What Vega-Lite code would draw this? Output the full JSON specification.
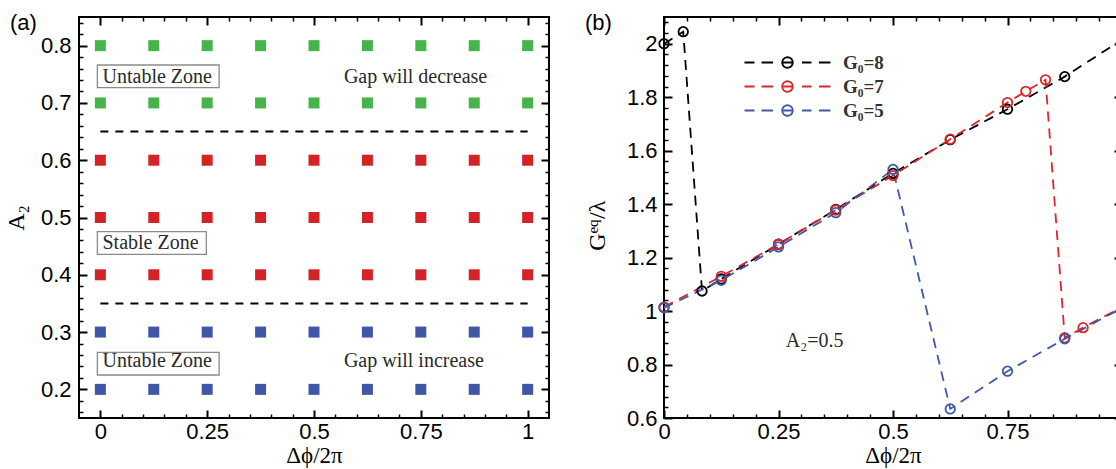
{
  "$schema": "https://vega.github.io/schema/vega-lite/v6.json",
  "autosize": {"type": "none"},
  "padding": {"left": 79, "top": 17, "right": 1037, "bottom": 452},
  "background": "white",
  "spacing": 115,
  "bounds": "flush",
  "resolve": {"scale": {"color": "independent"}, "legend": {"color": "independent"}},
  "datasets": {
    "curves": [
      {"phase": 0, "G": 2.0, "series": "G₀=8"},
      {"phase": 0.042, "G": 2.045, "series": "G₀=8"},
      {"phase": 0.083, "G": 1.075, "series": "G₀=8"},
      {"phase": 0.125, "G": 1.12, "series": "G₀=8"},
      {"phase": 0.25, "G": 1.25, "series": "G₀=8"},
      {"phase": 0.375, "G": 1.38, "series": "G₀=8"},
      {"phase": 0.5, "G": 1.515, "series": "G₀=8"},
      {"phase": 0.625, "G": 1.641, "series": "G₀=8"},
      {"phase": 0.75, "G": 1.755, "series": "G₀=8"},
      {"phase": 0.875, "G": 1.877, "series": "G₀=8"},
      {"phase": 1.0, "G": 2.015, "series": "G₀=8"},
      {"phase": 0, "G": 1.015, "series": "G₀=7"},
      {"phase": 0.125, "G": 1.13, "series": "G₀=7"},
      {"phase": 0.25, "G": 1.25, "series": "G₀=7"},
      {"phase": 0.375, "G": 1.378, "series": "G₀=7"},
      {"phase": 0.5, "G": 1.507, "series": "G₀=7"},
      {"phase": 0.625, "G": 1.643, "series": "G₀=7"},
      {"phase": 0.75, "G": 1.78, "series": "G₀=7"},
      {"phase": 0.79, "G": 1.822, "series": "G₀=7"},
      {"phase": 0.833, "G": 1.865, "series": "G₀=7"},
      {"phase": 0.875, "G": 0.9, "series": "G₀=7"},
      {"phase": 0.915, "G": 0.938, "series": "G₀=7"},
      {"phase": 1.0, "G": 1.015, "series": "G₀=7"},
      {"phase": 0, "G": 1.012, "series": "G₀=5"},
      {"phase": 0.125, "G": 1.115, "series": "G₀=5"},
      {"phase": 0.25, "G": 1.24, "series": "G₀=5"},
      {"phase": 0.375, "G": 1.368, "series": "G₀=5"},
      {"phase": 0.5, "G": 1.53, "series": "G₀=5"},
      {"phase": 0.625, "G": 0.634, "series": "G₀=5"},
      {"phase": 0.75, "G": 0.775, "series": "G₀=5"},
      {"phase": 0.875, "G": 0.896, "series": "G₀=5"},
      {"phase": 1.0, "G": 1.012, "series": "G₀=5"}
    ]
  },
  "hconcat": [
    {
      "width": 470,
      "height": 401,
      "title": {"text": "(a)", "anchor": "start", "frame": "group", "orient": "top", "offset": 0, "dx": -69, "dy": 36, "baseline": "alphabetic", "font": "Liberation Sans", "fontSize": 22, "fontWeight": "normal", "color": "black"},
      "resolve": {"axis": {"x": "independent", "y": "independent"}},
      "layer": [
        {
          "data": {"values": [
            {"phase": 0, "A2": 0.8, "zone": "decrease"}, {"phase": 0.125, "A2": 0.8, "zone": "decrease"}, {"phase": 0.25, "A2": 0.8, "zone": "decrease"}, {"phase": 0.375, "A2": 0.8, "zone": "decrease"}, {"phase": 0.5, "A2": 0.8, "zone": "decrease"}, {"phase": 0.625, "A2": 0.8, "zone": "decrease"}, {"phase": 0.75, "A2": 0.8, "zone": "decrease"}, {"phase": 0.875, "A2": 0.8, "zone": "decrease"}, {"phase": 1, "A2": 0.8, "zone": "decrease"},
            {"phase": 0, "A2": 0.7, "zone": "decrease"}, {"phase": 0.125, "A2": 0.7, "zone": "decrease"}, {"phase": 0.25, "A2": 0.7, "zone": "decrease"}, {"phase": 0.375, "A2": 0.7, "zone": "decrease"}, {"phase": 0.5, "A2": 0.7, "zone": "decrease"}, {"phase": 0.625, "A2": 0.7, "zone": "decrease"}, {"phase": 0.75, "A2": 0.7, "zone": "decrease"}, {"phase": 0.875, "A2": 0.7, "zone": "decrease"}, {"phase": 1, "A2": 0.7, "zone": "decrease"},
            {"phase": 0, "A2": 0.6, "zone": "stable"}, {"phase": 0.125, "A2": 0.6, "zone": "stable"}, {"phase": 0.25, "A2": 0.6, "zone": "stable"}, {"phase": 0.375, "A2": 0.6, "zone": "stable"}, {"phase": 0.5, "A2": 0.6, "zone": "stable"}, {"phase": 0.625, "A2": 0.6, "zone": "stable"}, {"phase": 0.75, "A2": 0.6, "zone": "stable"}, {"phase": 0.875, "A2": 0.6, "zone": "stable"}, {"phase": 1, "A2": 0.6, "zone": "stable"},
            {"phase": 0, "A2": 0.5, "zone": "stable"}, {"phase": 0.125, "A2": 0.5, "zone": "stable"}, {"phase": 0.25, "A2": 0.5, "zone": "stable"}, {"phase": 0.375, "A2": 0.5, "zone": "stable"}, {"phase": 0.5, "A2": 0.5, "zone": "stable"}, {"phase": 0.625, "A2": 0.5, "zone": "stable"}, {"phase": 0.75, "A2": 0.5, "zone": "stable"}, {"phase": 0.875, "A2": 0.5, "zone": "stable"}, {"phase": 1, "A2": 0.5, "zone": "stable"},
            {"phase": 0, "A2": 0.4, "zone": "stable"}, {"phase": 0.125, "A2": 0.4, "zone": "stable"}, {"phase": 0.25, "A2": 0.4, "zone": "stable"}, {"phase": 0.375, "A2": 0.4, "zone": "stable"}, {"phase": 0.5, "A2": 0.4, "zone": "stable"}, {"phase": 0.625, "A2": 0.4, "zone": "stable"}, {"phase": 0.75, "A2": 0.4, "zone": "stable"}, {"phase": 0.875, "A2": 0.4, "zone": "stable"}, {"phase": 1, "A2": 0.4, "zone": "stable"},
            {"phase": 0, "A2": 0.3, "zone": "increase"}, {"phase": 0.125, "A2": 0.3, "zone": "increase"}, {"phase": 0.25, "A2": 0.3, "zone": "increase"}, {"phase": 0.375, "A2": 0.3, "zone": "increase"}, {"phase": 0.5, "A2": 0.3, "zone": "increase"}, {"phase": 0.625, "A2": 0.3, "zone": "increase"}, {"phase": 0.75, "A2": 0.3, "zone": "increase"}, {"phase": 0.875, "A2": 0.3, "zone": "increase"}, {"phase": 1, "A2": 0.3, "zone": "increase"},
            {"phase": 0, "A2": 0.2, "zone": "increase"}, {"phase": 0.125, "A2": 0.2, "zone": "increase"}, {"phase": 0.25, "A2": 0.2, "zone": "increase"}, {"phase": 0.375, "A2": 0.2, "zone": "increase"}, {"phase": 0.5, "A2": 0.2, "zone": "increase"}, {"phase": 0.625, "A2": 0.2, "zone": "increase"}, {"phase": 0.75, "A2": 0.2, "zone": "increase"}, {"phase": 0.875, "A2": 0.2, "zone": "increase"}, {"phase": 1, "A2": 0.2, "zone": "increase"}
          ]},
          "mark": {"type": "point", "shape": "square", "filled": true, "size": 121, "opacity": 1},
          "encoding": {
            "x": {"field": "phase", "type": "quantitative", "scale": {"domain": [-0.05, 1.05], "nice": false, "zero": false},
                  "axis": {"orient": "bottom", "values": [0, 0.25, 0.5, 0.75, 1], "format": ".2~f", "ticks": false, "labelPadding": 3, "title": "Δϕ/2π", "titlePadding": 2, "titleFontSize": 23}},
            "y": {"field": "A2", "type": "quantitative", "scale": {"domain": [0.15, 0.85], "nice": false, "zero": false},
                  "axis": {"orient": "left", "values": [0.2, 0.3, 0.4, 0.5, 0.6, 0.7, 0.8], "format": ".1f", "ticks": false, "labelPadding": 8, "title": "A₂", "titlePadding": 12}},
            "color": {"field": "zone", "type": "nominal", "scale": {"domain": ["decrease", "stable", "increase"], "range": ["#45b449", "#d42229", "#3f57a6"]}, "legend": null}
          }
        },
        {
          "data": {"values": [{"A2": 0.65}, {"A2": 0.35}]},
          "mark": {"type": "rule", "strokeDash": [8, 7], "strokeWidth": 2, "color": "black"},
          "encoding": {
            "x": {"datum": 0, "type": "quantitative", "scale": {"domain": [-0.05, 1.05], "nice": false, "zero": false},
                  "axis": {"orient": "bottom", "values": [0, 0.25, 0.5, 0.75, 1], "labels": false, "tickSize": -8, "tickWidth": 2, "title": null}},
            "x2": {"datum": 1},
            "y": {"field": "A2", "type": "quantitative", "scale": {"domain": [0.15, 0.85], "nice": false, "zero": false},
                  "axis": {"orient": "left", "values": [0.2, 0.3, 0.4, 0.5, 0.6, 0.7, 0.8], "labels": false, "tickSize": -8, "tickWidth": 2, "title": null}}
          }
        },
        {
          "data": {"values": [
            {"label": "Untable Zone", "x1": -0.007, "x2": 0.278, "y1": 0.7266, "y2": 0.7662},
            {"label": "Stable Zone", "x1": -0.007, "x2": 0.248, "y1": 0.4358, "y2": 0.4752},
            {"label": "Untable Zone", "x1": -0.007, "x2": 0.278, "y1": 0.2251, "y2": 0.2644}
          ]},
          "mark": {"type": "rect", "fill": "white", "stroke": "#8a8a8a", "strokeWidth": 1.3},
          "encoding": {
            "x": {"field": "x1", "type": "quantitative", "scale": {"domain": [-0.05, 1.05], "nice": false, "zero": false},
                  "axis": {"orient": "bottom", "values": [0.05, 0.1, 0.15, 0.2, 0.3, 0.35, 0.4, 0.45, 0.55, 0.6, 0.65, 0.7, 0.8, 0.85, 0.9, 0.95], "labels": false, "tickSize": -4, "tickWidth": 1.5, "title": null}},
            "x2": {"field": "x2"},
            "y": {"field": "y1", "type": "quantitative", "scale": {"domain": [0.15, 0.85], "nice": false, "zero": false},
                  "axis": {"orient": "left", "values": [0.16, 0.18, 0.22, 0.24, 0.26, 0.28, 0.32, 0.34, 0.36, 0.38, 0.42, 0.44, 0.46, 0.48, 0.52, 0.54, 0.56, 0.58, 0.62, 0.64, 0.66, 0.68, 0.72, 0.74, 0.76, 0.78, 0.82, 0.84], "labels": false, "tickSize": -4, "tickWidth": 1.5, "title": null}},
            "y2": {"field": "y2"}
          }
        },
        {
          "data": {"values": [
            {"label": "Untable Zone", "x": 0.005, "y": 0.7343},
            {"label": "Stable Zone", "x": 0.005, "y": 0.445},
            {"label": "Untable Zone", "x": 0.005, "y": 0.2396}
          ]},
          "mark": {"type": "text", "align": "left", "baseline": "alphabetic", "font": "Liberation Serif", "fontSize": 20, "color": "#2a2a2a"},
          "encoding": {
            "x": {"field": "x", "type": "quantitative", "scale": {"domain": [-0.05, 1.05], "nice": false, "zero": false},
                  "axis": {"orient": "top", "values": [0, 0.25, 0.5, 0.75, 1], "labels": false, "tickSize": -8, "tickWidth": 2, "title": null}},
            "y": {"field": "y", "type": "quantitative", "scale": {"domain": [0.15, 0.85], "nice": false, "zero": false},
                  "axis": {"orient": "right", "values": [0.2, 0.3, 0.4, 0.5, 0.6, 0.7, 0.8], "labels": false, "tickSize": -8, "tickWidth": 2, "title": null}},
            "text": {"field": "label"}
          }
        },
        {
          "data": {"values": [
            {"label": "Gap will decrease", "x": 0.57, "y": 0.7343},
            {"label": "Gap will increase", "x": 0.57, "y": 0.2396}
          ]},
          "mark": {"type": "text", "align": "left", "baseline": "alphabetic", "font": "Liberation Serif", "fontSize": 20, "color": "#2a2a2a"},
          "encoding": {
            "x": {"field": "x", "type": "quantitative", "scale": {"domain": [-0.05, 1.05], "nice": false, "zero": false},
                  "axis": {"orient": "top", "values": [0.05, 0.1, 0.15, 0.2, 0.3, 0.35, 0.4, 0.45, 0.55, 0.6, 0.65, 0.7, 0.8, 0.85, 0.9, 0.95], "labels": false, "tickSize": -4, "tickWidth": 1.5, "title": null}},
            "y": {"field": "y", "type": "quantitative", "scale": {"domain": [0.15, 0.85], "nice": false, "zero": false},
                  "axis": {"orient": "right", "values": [0.16, 0.18, 0.22, 0.24, 0.26, 0.28, 0.32, 0.34, 0.36, 0.38, 0.42, 0.44, 0.46, 0.48, 0.52, 0.54, 0.56, 0.58, 0.62, 0.64, 0.66, 0.68, 0.72, 0.74, 0.76, 0.78, 0.82, 0.84], "labels": false, "tickSize": -4, "tickWidth": 1.5, "title": null}},
            "text": {"field": "label"}
          }
        }
      ]
    },
    {
      "width": 458,
      "height": 401,
      "title": {"text": "(b)", "anchor": "start", "frame": "group", "orient": "top", "offset": 0, "dx": -79, "dy": 36, "baseline": "alphabetic", "font": "Liberation Sans", "fontSize": 22, "fontWeight": "normal", "color": "black"},
      "resolve": {"axis": {"x": "independent", "y": "independent"}},
      "layer": [
        {
          "data": {"name": "curves"},
          "mark": {"type": "line", "strokeDash": [10, 7], "strokeWidth": 1.8},
          "encoding": {
            "x": {"field": "phase", "type": "quantitative", "scale": {"domain": [0, 1], "nice": false, "zero": false},
                  "axis": {"orient": "bottom", "values": [0, 0.25, 0.5, 0.75], "format": ".2~f", "ticks": false, "labelPadding": 3, "title": "Δϕ/2π", "titlePadding": 2, "titleFontSize": 23}},
            "y": {"field": "G", "type": "quantitative", "scale": {"domain": [0.6, 2.1], "nice": false, "zero": false},
                  "axis": {"orient": "left", "values": [0.6, 0.8, 1.0, 1.2, 1.4, 1.6, 1.8, 2.0], "format": ".2~f", "ticks": false, "labelPadding": 7, "title": null}},
            "color": {"field": "series", "type": "nominal", "scale": {"domain": ["G₀=8", "G₀=7", "G₀=5"], "range": ["#000000", "#dc262d", "#3f59a8"]},
                      "legend": {"orient": "none", "legendX": 114, "legendY": 36, "title": null, "padding": 0,
                                 "symbolType": "M-8.6,0H-6.6M-5.2,0H-2.9M-1.05,0A1.05,1.05,0,1,1,1.05,0A1.05,1.05,0,1,1,-1.05,0M-1.05,0H1.05M2.9,0H4.8M6.3,0H8.6",
                                 "symbolSize": 100, "symbolStrokeWidth": 1.8, "symbolFillColor": "transparent", "symbolDash": [1, 0],
                                 "labelFont": "Liberation Serif", "labelFontWeight": "bold", "labelFontSize": 19, "labelColor": "#333333",
                                 "labelOffset": 46, "rowPadding": 4}}
          }
        },
        {
          "data": {"name": "curves"},
          "mark": {"type": "point", "shape": "circle", "filled": false, "size": 90, "strokeWidth": 1.8, "opacity": 1},
          "encoding": {
            "x": {"field": "phase", "type": "quantitative", "scale": {"domain": [0, 1], "nice": false, "zero": false},
                  "axis": {"orient": "bottom", "values": [0, 0.25, 0.5, 0.75, 1], "labels": false, "tickSize": -8, "tickWidth": 2, "title": null}},
            "y": {"field": "G", "type": "quantitative", "scale": {"domain": [0.6, 2.1], "nice": false, "zero": false},
                  "axis": {"orient": "left", "values": [0.6, 0.8, 1.0, 1.2, 1.4, 1.6, 1.8, 2.0], "labels": false, "tickSize": -8, "tickWidth": 2, "title": null}},
            "color": {"field": "series", "type": "nominal", "scale": {"domain": ["G₀=8", "G₀=7", "G₀=5"], "range": ["#000000", "#dc262d", "#3f59a8"]},
                      "legend": {"orient": "none", "legendX": 114, "legendY": 36, "title": null, "padding": 0,
                                 "symbolType": "M-8.6,0H-6.6M-5.2,0H-2.9M-1.05,0A1.05,1.05,0,1,1,1.05,0A1.05,1.05,0,1,1,-1.05,0M-1.05,0H1.05M2.9,0H4.8M6.3,0H8.6",
                                 "symbolSize": 100, "symbolStrokeWidth": 1.8, "symbolFillColor": "transparent", "symbolDash": [1, 0],
                                 "labelFont": "Liberation Serif", "labelFontWeight": "bold", "labelFontSize": 19, "labelColor": "#333333",
                                 "labelOffset": 46, "rowPadding": 4}}
          }
        },
        {
          "data": {"values": [{}]},
          "mark": {"type": "text", "text": "A₂=0.5", "align": "left", "baseline": "alphabetic", "font": "Liberation Serif", "fontSize": 20, "color": "#2a2a2a"},
          "encoding": {
            "x": {"datum": 0.266, "type": "quantitative", "scale": {"domain": [0, 1], "nice": false, "zero": false},
                  "axis": {"orient": "bottom", "values": [0.05, 0.1, 0.15, 0.2, 0.3, 0.35, 0.4, 0.45, 0.55, 0.6, 0.65, 0.7, 0.8, 0.85, 0.9, 0.95], "labels": false, "tickSize": -4, "tickWidth": 1.5, "title": null}},
            "y": {"datum": 0.867, "type": "quantitative", "scale": {"domain": [0.6, 2.1], "nice": false, "zero": false},
                  "axis": {"orient": "left", "values": [0.64, 0.68, 0.72, 0.76, 0.84, 0.88, 0.92, 0.96, 1.04, 1.08, 1.12, 1.16, 1.24, 1.28, 1.32, 1.36, 1.44, 1.48, 1.52, 1.56, 1.64, 1.68, 1.72, 1.76, 1.84, 1.88, 1.92, 1.96, 2.04, 2.08], "labels": false, "tickSize": -4, "tickWidth": 1.5, "title": null}}
          }
        },
        {
          "data": {"values": [{}]},
          "mark": {"type": "text", "text": "G", "angle": 270, "align": "left", "baseline": "alphabetic", "font": "Liberation Serif", "fontSize": 24, "color": "black"},
          "encoding": {
            "x": {"datum": -0.129, "type": "quantitative", "scale": {"domain": [0, 1], "nice": false, "zero": false},
                  "axis": {"orient": "top", "values": [0, 0.25, 0.5, 0.75, 1], "labels": false, "tickSize": -8, "tickWidth": 2, "title": null}},
            "y": {"datum": 1.226, "type": "quantitative", "scale": {"domain": [0.6, 2.1], "nice": false, "zero": false},
                  "axis": {"orient": "right", "values": [0.6, 0.8, 1.0, 1.2, 1.4, 1.6, 1.8, 2.0], "labels": false, "tickSize": -8, "tickWidth": 2, "title": null}}
          }
        },
        {
          "data": {"values": [{}]},
          "mark": {"type": "text", "text": "eq", "angle": 270, "align": "left", "baseline": "alphabetic", "font": "Liberation Serif", "fontSize": 15, "color": "black"},
          "encoding": {
            "x": {"datum": -0.144, "type": "quantitative", "scale": {"domain": [0, 1], "nice": false, "zero": false},
                  "axis": {"orient": "top", "values": [0.05, 0.1, 0.15, 0.2, 0.3, 0.35, 0.4, 0.45, 0.55, 0.6, 0.65, 0.7, 0.8, 0.85, 0.9, 0.95], "labels": false, "tickSize": -4, "tickWidth": 1.5, "title": null}},
            "y": {"datum": 1.29, "type": "quantitative", "scale": {"domain": [0.6, 2.1], "nice": false, "zero": false},
                  "axis": {"orient": "right", "values": [0.64, 0.68, 0.72, 0.76, 0.84, 0.88, 0.92, 0.96, 1.04, 1.08, 1.12, 1.16, 1.24, 1.28, 1.32, 1.36, 1.44, 1.48, 1.52, 1.56, 1.64, 1.68, 1.72, 1.76, 1.84, 1.88, 1.92, 1.96, 2.04, 2.08], "labels": false, "tickSize": -4, "tickWidth": 1.5, "title": null}}
          }
        },
        {
          "data": {"values": [{}]},
          "mark": {"type": "text", "text": "/λ", "angle": 270, "align": "left", "baseline": "alphabetic", "font": "Liberation Serif", "fontSize": 24, "color": "black"},
          "encoding": {
            "x": {"datum": -0.129, "type": "quantitative", "scale": {"domain": [0, 1], "nice": false, "zero": false}, "axis": null},
            "y": {"datum": 1.344, "type": "quantitative", "scale": {"domain": [0.6, 2.1], "nice": false, "zero": false}, "axis": null}
          }
        }
      ]
    }
  ],
  "config": {
    "view": {"stroke": "black", "strokeWidth": 2},
    "axis": {
      "grid": false, "domain": false,
      "labelFont": "Liberation Sans", "labelFontSize": 22, "labelColor": "black", "labelFlush": false, "labelOverlap": false,
      "tickColor": "black",
      "titleFont": "Liberation Serif", "titleFontSize": 24, "titleFontWeight": "normal", "titleColor": "black"
    },
    "text": {"clip": false}
  }
}
